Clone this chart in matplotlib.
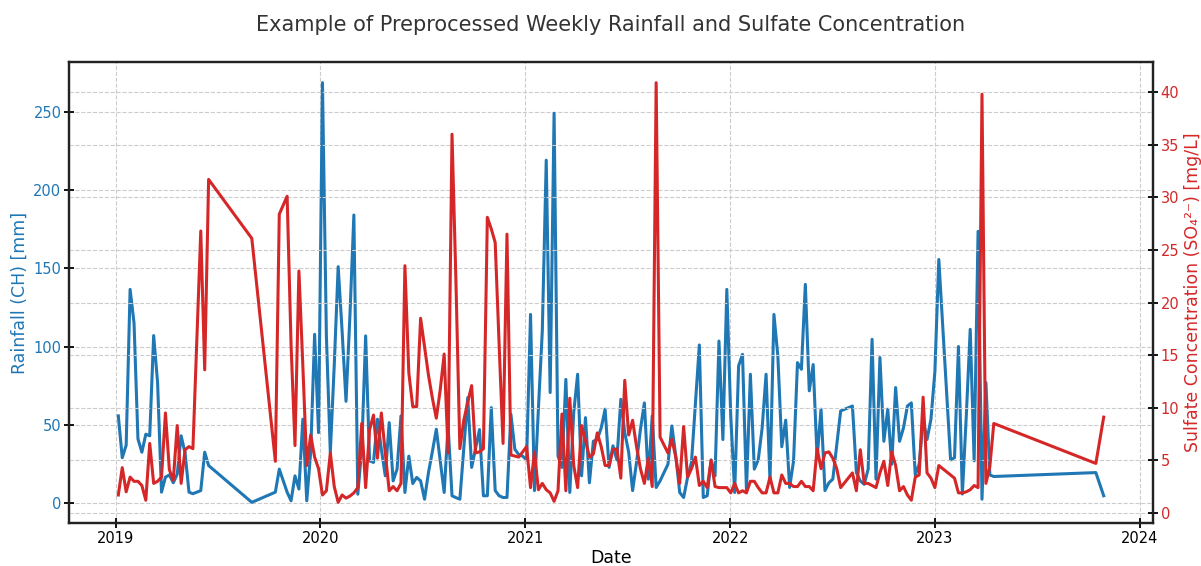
import matplotlib

matplotlib.use("Agg")
import matplotlib.dates as mdates  # noqa: E402
import matplotlib.pyplot as plt  # noqa: E402
import numpy as np  # noqa: E402
import pandas as pd  # noqa: E402

BLUE = "#1f77b4"
RED = "#d62728"

# Weekly samples after preprocessing; week 0 = first sampling week of 2019.
START = "2019-01-06"
week = [
    0, 1, 2, 3, 4, 5, 6, 7, 8, 9, 10, 11, 12, 13, 14, 15, 16, 17, 18, 19,
    21, 22, 23, 34, 40, 41, 43, 44, 45, 46, 47, 48, 49, 50, 51, 52, 53, 54,
    55, 56, 57, 58, 59, 60, 61, 62, 63, 64, 65, 66, 67, 68, 69, 70, 71, 72,
    73, 74, 75, 76, 77, 78, 79, 80, 81, 82, 83, 84, 85, 86, 87, 88, 89, 90,
    91, 92, 93, 94, 95, 96, 97, 98, 99, 100, 101, 102, 103, 104, 105, 106,
    107, 108, 109, 110, 111, 112, 113, 114, 115, 116, 117, 118, 119, 120,
    121, 122, 123, 124, 125, 126, 127, 128, 129, 130, 131, 132, 133, 134,
    135, 136, 137, 138, 140, 141, 142, 143, 144, 145, 146, 147, 148, 149,
    150, 151, 152, 153, 154, 155, 156, 157, 158, 159, 160, 161, 162, 163,
    164, 165, 166, 167, 168, 169, 170, 171, 172, 173, 174, 175, 176, 177,
    178, 179, 180, 181, 182, 183, 184, 187, 188, 189, 190, 191, 192, 193,
    194, 195, 196, 197, 198, 199, 200, 201, 202, 203, 204, 205, 206, 207,
    208, 209, 212, 213, 214, 215, 216, 217, 218, 219, 220, 221, 222, 223,
    249, 251,
]
rain_mm = [
    55.7, 29, 37, 136.5, 115, 41, 32.5, 44, 43, 107, 77, 7, 16.6, 18, 13, 18.5, 43, 32, 7, 6,
    8, 32.5, 24, 0.5, 7, 21.7, 7, 1.5, 17.4, 9, 53.6, 1.5, 32.5, 107.8, 45, 268.5, 106.8, 32.3,
    88, 151, 110, 65, 120, 184, 5.7, 34.4, 106.8, 27, 26, 53.6, 34.4, 17.4, 51.4, 14.2, 21.7, 55.7,
    6.8, 30, 12.5, 16.4, 14.2, 2.5, 19.5, 33, 47.2, 27, 6.8, 49.3, 4.7, 3.5, 2.5, 35, 67.4, 22.8,
    35, 47, 4.7, 4.7, 61, 8, 4.7, 3.6, 3.6, 56.8, 34.4, 31, 30, 27.6, 120.5, 8,
    60, 110, 219, 70.6, 249, 30, 22.8, 79, 6.8, 57.8, 82.3, 17.4, 54.6, 13,
    39.5, 40.6, 48, 60, 22.8, 36.6, 27.6, 66.3, 45, 32.5, 8, 26, 47.2, 64,
    15.3, 55.7, 10, 14.2, 24.8, 49.3, 30, 6.8, 3.6, 16.4, 26, 64, 101, 3.6,
    4.7, 27.6, 17.4, 103.5, 40.6, 136.5, 55.7, 6.8, 87.6, 95, 8, 82.3, 21.7, 27.6,
    48, 82.3, 14.2, 120.5, 94, 36, 53, 10, 27, 89.7, 85.5, 139.7, 71.7, 88.5,
    29, 60, 8, 13, 15.3, 37, 58.9, 62, 19.5, 14.2, 12, 21.7, 104.6, 15.3,
    93, 39.5, 60, 24.8, 73.8, 39.5, 48, 62, 64, 18, 24.8, 53.6, 40.6, 53.6,
    84, 155.6, 27.6, 29, 100, 5.8, 55.7, 111, 27, 173.6, 2.5, 77, 18, 17,
    19.5, 4.7,
]
sulfate_mgl = [
    1.7, 4.3, 2.0, 3.4, 3.0, 3.0, 2.6, 1.2, 6.6, 2.8, 3.0, 3.4, 9.5, 4.1, 3.1, 8.3, 2.8, 6.0, 6.3, 6.1,
    26.8, 13.6, 31.7, 26.1, 4.9, 28.4, 30.1, 16, 6.4, 23, 14, 4.5, 7.4, 5.3, 4.2, 1.7, 2.1, 5.7,
    2.5, 1.0, 1.7, 1.4, 1.6, 1.9, 2.4, 8.5, 2.4, 7.9, 9.3, 5.2, 9.5, 5.7, 2.1, 2.5, 2.1, 2.8,
    23.5, 13.3, 10.1, 10.1, 18.5, 15.8, 13.1, 10.9, 9.0, 11.7, 15.1, 5.7, 36, 22, 6.1, 8.8, 10.5, 12.1,
    5.7, 5.8, 6.1, 28.1, 27, 25.7, 16, 6.6, 26.5, 5.5, 5.4, 5.3, 5.8, 6.3, 2.4, 5.8,
    2.2, 2.8, 2.2, 1.9, 1.1, 2.1, 9.4, 2.1, 10.9, 4.5, 2.4, 8.3, 6.9, 5.3,
    5.6, 7.6, 6.3, 4.5, 4.5, 6.0, 6.1, 3.3, 12.6, 7.4, 8.8, 6.3, 4.2, 2.8,
    5.2, 2.5, 40.9, 7.2, 5.7, 7.0, 5.3, 2.8, 8.2, 3.4, 4.2, 5.3, 2.6, 3.0,
    2.4, 5.0, 2.5, 2.4, 2.4, 2.4, 1.9, 2.8, 1.9, 2.1, 1.9, 3.0, 3.0, 2.4,
    1.9, 1.9, 3.4, 1.9, 1.9, 3.6, 2.8, 2.8, 2.5, 2.5, 3.0, 2.5, 2.5, 2.1,
    6.1, 4.2, 5.7, 5.8, 5.2, 4.2, 2.4, 3.8, 2.1, 6.0, 2.8, 2.8, 2.6, 2.4,
    3.8, 4.9, 2.6, 5.8, 4.5, 2.1, 2.5, 1.7, 1.2, 3.4, 3.6, 11, 3.8, 3.3,
    2.4, 4.5, 3.6, 3.3, 1.9, 1.9, 2.0, 2.2, 2.6, 2.4, 39.8, 2.8, 4.4, 8.5,
    4.7, 9.1,
]

dates = pd.Timestamp(START) + pd.to_timedelta(np.array(week) * 7, unit="D")

plt.rcParams["font.family"] = "DejaVu Sans"
fig, ax = plt.subplots(figsize=(12.01, 5.66), dpi=100)
fig.subplots_adjust(left=0.0575, right=0.960, top=0.891, bottom=0.0754)

ax.plot(dates, rain_mm, color=BLUE, lw=2.2)
ax.set_ylabel("Rainfall (CH) [mm]", color=BLUE, fontsize=12.5, labelpad=3)
ax.set_xlabel("Date", fontsize=12.5, labelpad=2)
ax.tick_params(axis="y", labelcolor=BLUE)
ax.xaxis.set_major_locator(mdates.YearLocator())
ax.xaxis.set_major_formatter(mdates.DateFormatter("%Y"))
ax.grid(True, linestyle="--", color="#cccccc", lw=0.8)

ax2 = ax.twinx()
ax2.plot(dates, sulfate_mgl, color=RED, lw=2.2)
ax2.set_ylabel("Sulfate Concentration (SO\u2084\u00b2\u207b) [mg/L]", color=RED,
               fontsize=12.5, labelpad=3)
ax2.tick_params(axis="y", labelcolor=RED)
ax2.grid(True, axis="y", linestyle="--", color="#cccccc", lw=0.8)

for a in (ax, ax2):
    a.tick_params(direction="inout", length=7, width=1.3, labelsize=10.5, pad=2)
    for s in a.spines.values():
        s.set_color("#222222")
        s.set_linewidth(1.6)

ax.set_title("Example of Preprocessed Weekly Rainfall and Sulfate Concentration",
             fontsize=15, color="#333333", pad=22)

fig.savefig("out.png", dpi=100)
